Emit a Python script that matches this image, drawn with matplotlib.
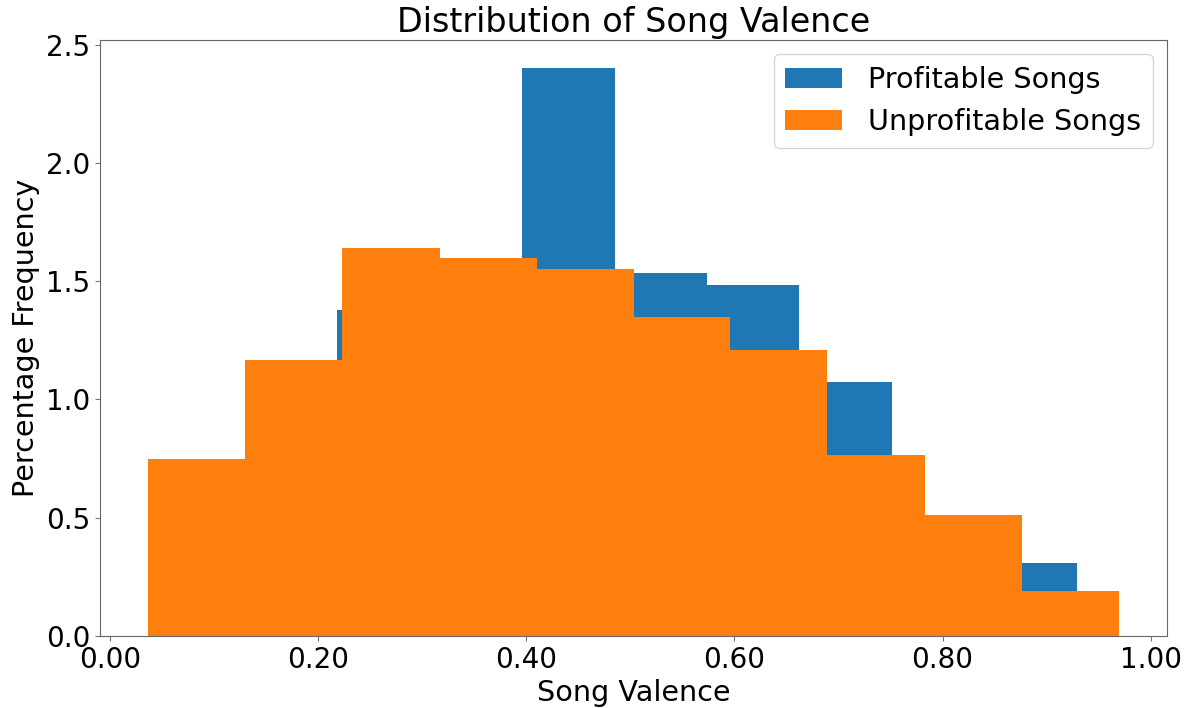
import numpy as np
import matplotlib
matplotlib.use("Agg")
import matplotlib.pyplot as plt
from matplotlib.ticker import FormatStrFormatter

# bin edges (song valence)
profitable_edges = [0.040, 0.129, 0.218, 0.307, 0.396, 0.485, 0.574, 0.662, 0.751, 0.840, 0.929]
unprofitable_edges = [0.037, 0.130, 0.223, 0.317, 0.410, 0.503, 0.596, 0.689, 0.783, 0.876, 0.969]

# density heights per bin (hidden profitable bins are estimates)
profitable_heights = [0.45, 0.72, 1.38, 1.38, 2.40, 1.535, 1.485, 1.074, 0.40, 0.31]
unprofitable_heights = [0.75, 1.165, 1.64, 1.60, 1.55, 1.35, 1.21, 0.765, 0.51, 0.19]

labels = ["Profitable Songs", "Unprofitable Songs"]
colors = ["#1f77b4", "#ff7f0e"]

fig, ax = plt.subplots(figsize=(11.86, 7.08), dpi=100)
fig.subplots_adjust(left=0.0843, right=0.984, top=0.9435, bottom=0.1017)

for edges, heights, label, color in zip(
    [profitable_edges, unprofitable_edges],
    [profitable_heights, unprofitable_heights],
    labels, colors,
):
    edges = np.array(edges)
    centers = (edges[:-1] + edges[1:]) / 2
    ax.hist(centers, bins=edges, weights=heights, color=color, label=label)

ax.set_title("Distribution of Song Valence", fontsize=24)
ax.set_xlabel("Song Valence", fontsize=20.6)
ax.set_ylabel("Percentage Frequency", fontsize=20.6)
ax.tick_params(labelsize=20, color="0.45")
for spine in ax.spines.values():
    spine.set_color("0.4")
ax.xaxis.set_major_formatter(FormatStrFormatter("%.2f"))
ax.legend(fontsize=20.6, handletextpad=0.9)

fig.savefig("out.png", dpi=100)
